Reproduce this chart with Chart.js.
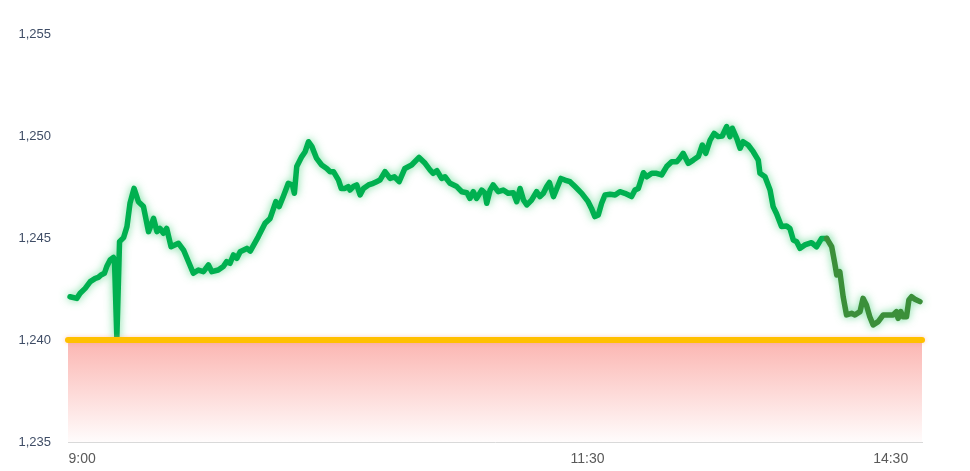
<!DOCTYPE html>
<html lang="en">
<head>
  <meta charset="UTF-8" />
  <title>Index intraday</title>
  <script src="https://cdn.jsdelivr.net/npm/chart.js"></script>
  <style>
    html, body { margin: 0; padding: 0; background: #fff; }
    .chart-wrapper { position: relative; width: 970px; height: 471px; }
  </style>
</head>
<body>
<div class="chart-wrapper">
  <canvas id="indexChart"></canvas>
</div>

<script>
  // trading minutes since 9:00 (lunch break skipped, 13:00 follows 11:30)
  const minutes = [
    -3.6, -1.6, -0.6, 0.9, 2.4, 3.9, 4.8, 5.6, 6.6, 7.3, 8.3, 9.3, 9.6, 10.3, 11.1, 12.3, 13.3, 14.2, 15.4, 16.7,
    18.2, 19.7, 21.2, 22.2, 23.1, 24.1, 25.1, 26.4, 28.6, 30.1, 33.0, 34.5, 36.0, 37.5, 38.5, 40.4, 41.9, 42.9, 43.9, 44.9,
    45.9, 46.9, 48.9, 49.9, 52.3, 54.3, 55.8, 57.5, 58.5, 59.7, 61.2, 62.4, 63.0, 63.7, 65.2, 66.2, 67.2, 68.2, 69.6, 71.1,
    72.6, 73.6, 74.6, 76.1, 76.9, 78.0, 79.0, 79.5, 80.5, 81.5, 82.5, 83.5, 85.0, 86.4, 87.4, 88.4, 89.9, 91.4, 92.7, 94.1,
    95.8, 97.8, 100.0, 101.8, 103.3, 104.2, 105.3, 106.7, 107.7, 109.2, 111.2, 112.7, 114.2, 115.1, 116.1, 117.1, 118.6, 119.6, 120.1, 121.1,
    122.0, 123.5, 125.0, 126.5, 128.0, 129.0, 130.0, 131.0, 132.0, 133.4, 134.9, 135.9, 136.9, 137.9, 138.7, 139.9, 140.9, 142.1, 143.3, 144.8,
    146.3, 148.3, 150.2, 151.2, 152.2, 153.2, 154.2, 155.2, 156.7, 158.2, 159.6, 161.1, 163.1, 164.1, 165.1, 166.6, 167.6, 169.1, 170.5, 172.0,
    173.5, 175.0, 176.5, 177.4, 178.4, 179.9, 181.4, 182.9, 184.1, 185.1, 186.4, 187.6, 188.8, 190.0, 191.3, 192.3, 193.0, 194.3, 195.3, 196.2,
    197.7, 199.2, 200.7, 201.2, 202.7, 204.2, 205.1, 206.1, 207.6, 209.1, 210.1, 211.1, 212.1, 213.1, 214.5, 216.5, 218.0, 219.5, 221.0, 222.5,
    223.4, 224.0, 224.9, 225.9, 226.9, 228.4, 229.4, 230.9, 231.8, 232.8, 233.8, 234.8, 236.3, 237.8, 239.3, 240.7, 241.7, 242.2, 243.0, 243.7,
    244.7, 245.4, 246.2, 247.2, 248.7
  ];
  const indexValues = [
    1242.12, 1242.04, 1242.29, 1242.53, 1242.86, 1243.02, 1243.07, 1243.19, 1243.27, 1243.60, 1243.92, 1244.05, 1243.90, 1240.10, 1244.82, 1245.02, 1245.56, 1246.70, 1247.43, 1246.78,
    1246.54, 1245.31, 1245.96, 1245.31, 1245.47, 1245.23, 1245.47, 1244.57, 1244.74, 1244.41, 1243.27, 1243.43, 1243.35, 1243.68, 1243.35, 1243.43, 1243.60, 1243.84, 1243.76, 1244.17,
    1244.00, 1244.33, 1244.49, 1244.36, 1245.07, 1245.72, 1245.96, 1246.78, 1246.54, 1247.03, 1247.68, 1247.60, 1247.19, 1248.50, 1248.99, 1249.23, 1249.72, 1249.48, 1248.90, 1248.58,
    1248.41, 1248.25, 1248.25, 1247.84, 1247.43, 1247.43, 1247.52, 1247.35, 1247.52, 1247.60, 1247.11, 1247.43, 1247.60, 1247.68, 1247.76, 1247.84, 1248.25, 1247.92, 1248.00, 1247.76,
    1248.41, 1248.58, 1248.95, 1248.66, 1248.33, 1248.17, 1248.30, 1247.92, 1248.00, 1247.68, 1247.52, 1247.27, 1247.22, 1246.94, 1247.27, 1246.94, 1247.35, 1247.19, 1246.70, 1247.35,
    1247.60, 1247.27, 1247.35, 1247.19, 1247.22, 1246.78, 1247.43, 1246.86, 1246.62, 1246.86, 1247.27, 1247.03, 1247.19, 1247.52, 1247.72, 1247.03, 1247.43, 1247.92, 1247.84, 1247.76,
    1247.52, 1247.19, 1246.78, 1246.45, 1246.05, 1246.13, 1246.70, 1247.11, 1247.14, 1247.11, 1247.27, 1247.19, 1247.03, 1247.35, 1247.43, 1248.20, 1248.00, 1248.17, 1248.17, 1248.09,
    1248.50, 1248.74, 1248.74, 1248.91, 1249.15, 1248.66, 1248.82, 1248.99, 1249.56, 1249.15, 1249.80, 1250.13, 1249.97, 1250.00, 1250.46, 1249.97, 1250.38, 1249.88, 1249.40, 1249.72,
    1249.56, 1249.23, 1248.82, 1248.17, 1248.00, 1247.35, 1246.54, 1246.20, 1245.56, 1245.59, 1245.47, 1244.90, 1244.82, 1244.49, 1244.66, 1244.77, 1244.57, 1244.98, 1244.98, 1244.57,
    1243.76, 1243.19, 1243.35, 1242.12, 1241.23, 1241.31, 1241.23, 1241.39, 1242.04, 1241.72, 1241.14, 1240.74, 1240.90, 1241.23, 1241.23, 1241.23, 1241.39, 1241.06, 1241.39, 1241.14,
    1241.14, 1241.96, 1242.12, 1242.00, 1241.88
  ];
  const referenceValue = 1240;
  const lateSessionFrom = 221;

  const tickMinutes = [0, 150, 240];
  const tickLabels = ['9:00', '11:30', '14:30'];
  const axisMin = -4.2, axisMax = 249.3;
  const yMin = 1235, yMax = 1255, yStep = 5;

  const GREEN = '#00b050';
  const DARK_GREEN = '#3b8f3a';

  // soft glow under each line
  const glowPlugin = {
    id: 'glow',
    beforeDatasetDraw(chart, args) {
      const ds = chart.data.datasets[args.index];
      chart.ctx.save();
      chart.ctx.shadowColor = ds.glowColor || 'transparent';
      chart.ctx.shadowBlur = ds.glowBlur || 0;
    },
    afterDatasetDraw(chart) {
      chart.ctx.restore();
    }
  };

  const ctx = document.getElementById('indexChart').getContext('2d');
  new Chart(ctx, {
    type: 'line',
    data: {
      datasets: [
        {
          label: 'Index',
          data: minutes.map((m, i) => ({ x: m, y: indexValues[i] })),
          borderColor: GREEN,
          borderWidth: 5.5,
          borderJoinStyle: 'round',
          borderCapStyle: 'round',
          pointRadius: 0,
          tension: 0,
          fill: false,
          order: 1,
          clip: false,
          glowColor: 'rgba(60,205,115,0.7)',
          glowBlur: 8,
          segment: {
            borderColor: c => c.p0.parsed.x >= lateSessionFrom ? DARK_GREEN : GREEN
          }
        },
        {
          label: 'Reference',
          data: [{ x: axisMin, y: referenceValue }, { x: axisMax, y: referenceValue }],
          borderColor: '#ffc000',
          borderWidth: 6,
          borderCapStyle: 'round',
          pointRadius: 0,
          order: 0,
          clip: false,
          glowColor: 'rgba(255,150,120,0.45)',
          glowBlur: 4,
          fill: 'start',
          backgroundColor: c => {
            const chart = c.chart;
            const area = chart.chartArea;
            if (!area) return 'rgba(251,185,181,0.8)';
            const yScale = chart.scales.y;
            const g = chart.ctx.createLinearGradient(0, yScale.getPixelForValue(referenceValue), 0, area.bottom);
            g.addColorStop(0, 'rgba(251,181,177,1)');
            g.addColorStop(1, 'rgba(255,252,252,1)');
            return g;
          }
        }
      ]
    },
    options: {
      responsive: true,
      maintainAspectRatio: false,
      animation: false,
      layout: { padding: { top: 34, right: 48, left: 0, bottom: 0 } },
      plugins: {
        legend: { display: false },
        tooltip: { enabled: false }
      },
      scales: {
        x: {
          type: 'linear',
          min: axisMin,
          max: axisMax,
          afterFit: s => { s.height = 29; },
          afterBuildTicks: s => { s.ticks = tickMinutes.map(v => ({ value: v })); },
          ticks: {
            autoSkip: false,
            maxRotation: 0,
            padding: 9,
            color: '#595959',
            font: { family: 'Liberation Sans', size: 14 },
            callback: v => tickLabels[tickMinutes.indexOf(v)]
          },
          grid: { display: false, drawTicks: false },
          border: { display: true, color: '#d9d9d9', width: 1 }
        },
        y: {
          min: yMin,
          max: yMax,
          afterFit: s => { s.width = 68; },
          ticks: {
            stepSize: yStep,
            padding: 17,
            color: '#3f4d66',
            font: { family: 'Liberation Sans', size: 13 },
            callback: v => v.toLocaleString('en-US')
          },
          grid: { display: false, drawTicks: false },
          border: { display: false }
        }
      }
    },
    plugins: [glowPlugin]
  });
</script>
</body>
</html>
